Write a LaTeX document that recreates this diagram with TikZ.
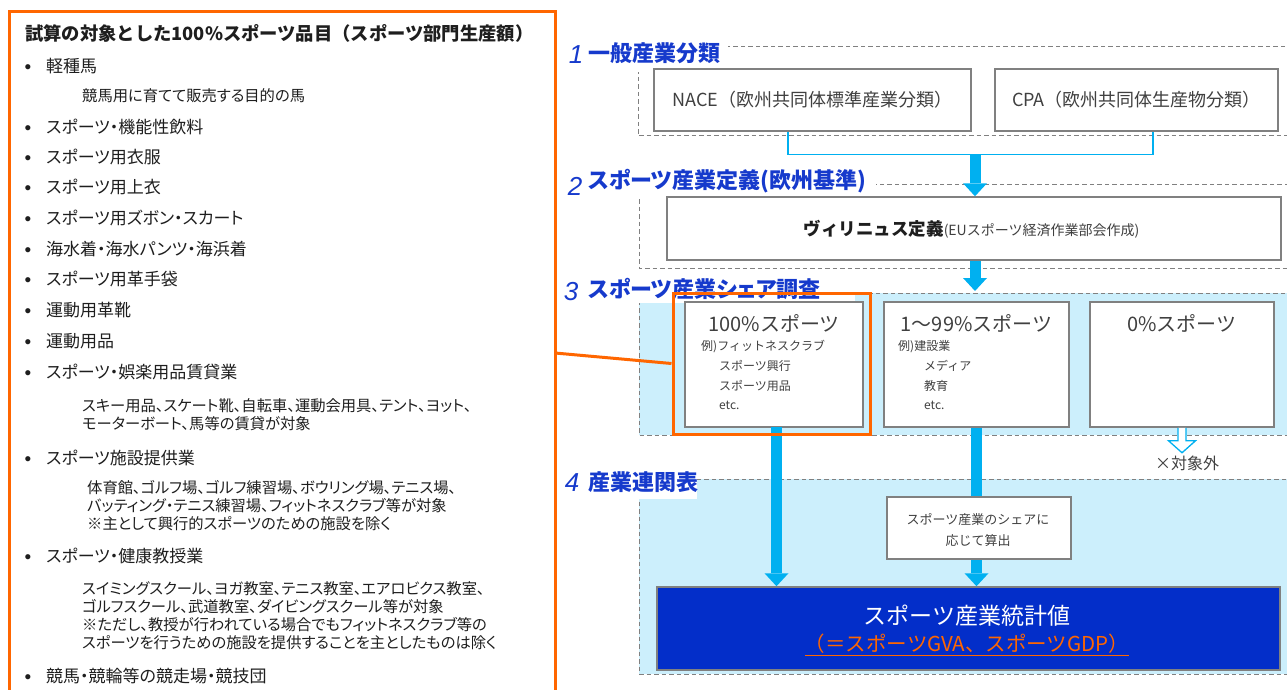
\documentclass[tikz,border=0pt]{standalone}
\usepackage{fontspec}
\usetikzlibrary{arrows.meta}
\setmainfont{Noto Sans CJK JP}
\newfontfamily\jp[RawFeature=+palt]{Noto Sans CJK JP}
\newfontfamily\jf{Noto Sans CJK JP}
\newfontfamily\numfont{Liberation Sans}
\newcommand\setfs[1]{\fontsize{#1}{#1}\selectfont}
\definecolor{orng}{RGB}{255,102,0}
\definecolor{lblue}{RGB}{204,239,252}
\definecolor{ablue}{RGB}{0,176,240}
\definecolor{dblue}{RGB}{3,46,201}
\definecolor{hblue}{RGB}{22,58,204}
\definecolor{bgray}{RGB}{128,128,128}
\definecolor{tgray}{RGB}{64,64,64}
\definecolor{tdark}{RGB}{30,30,30}
\tikzset{
 sect/.style={draw=bgray, dash pattern=on 4.5pt off 3pt, line width=1pt},
 gbox/.style={draw=bgray, line width=1.5pt, fill=white, inner sep=0pt},
 item/.style={anchor=west, inner sep=0pt, text=tdark, font=\jp\setfs{17}},
 sub/.style={anchor=west, inner sep=0pt, text=tdark, font=\jp\setfs{15.3}},
 bul/.style={inner sep=0pt, text=tdark, font=\numfont\setfs{19}, yshift=-3.5pt},
 hnum/.style={inner sep=0pt, text=hblue, font=\numfont\itshape\setfs{26}},
 htext/.style={anchor=west, inner sep=0pt, text=hblue, font=\jp\bfseries\setfs{22}},
 btitle/.style={inner sep=0pt, text=tdark!85, font=\jf\setfs{20}},
 bsub/.style={anchor=west, inner sep=0pt, text=tgray, font=\jf\setfs{12}},
 gtext/.style={inner sep=0pt, text=tgray, font=\jf\setfs{18}},
 bigarrow/.style={draw=ablue, line width=11pt, -{Triangle[width=24pt,length=13pt,line width=0pt]}},
 bracket/.style={draw=ablue, line width=1.2pt},
 hollow/.style={draw=ablue, line width=1.3pt, fill=white, line join=miter},
 oline/.style={draw=orng, line width=3pt},
}
\begin{document}
\begin{tikzpicture}[x=1pt,y=-1pt]
\useasboundingbox (0,0) rectangle (1287,690);
% ---------- section frames ----------
\draw[sect] (638,47) rectangle (1300,136);
\draw[sect] (639,184) rectangle (1300,268);
\draw[sect, fill=lblue] (639,293) rectangle (1300,435);
\draw[sect, fill=lblue] (639,479) rectangle (1300,674);
% label backgrounds
\fill[white] (558,34) rectangle (728,72);
\fill[white] (558,168) rectangle (876,197);
\fill[white] (558,272) rectangle (855,303);
\fill[white] (558,464) rectangle (697,499);
% headings
\node[hnum] (n1) at (576,55) {1};
\node[htext] (h1) at (588,53) {一般産業分類};
\node[hnum] (n2) at (575,186) {2};
\node[htext] (h2) at (588,181) {スポーツ産業定義(欧州基準)};
\node[hnum] (n3) at (571,292) {3};
\node[htext] (h3) at (588,289) {スポーツ産業シェア調査};
\node[hnum] (n4) at (572,483) {4};
\node[htext] (h4) at (588,482) {産業連関表};
% ---------- boxes ----------
\node[gbox, minimum width=317pt, minimum height=62pt] (nace) at (812.5,100) {};
\node[gtext] (nacet) at (812.5,100) {NACE（欧州共同体標準産業分類）};
\node[gbox, minimum width=283pt, minimum height=62pt] (cpa) at (1136.5,100) {};
\node[gtext] (cpat) at (1136.5,100) {CPA（欧州共同体生産物分類）};
\node[gbox, minimum width=614pt, minimum height=63pt] (vil) at (974,228.5) {};
\node[inner sep=0pt, text=tgray] (vilt) at (971.5,229) {{\jf\bfseries\setfs{17.5}\color{tdark}ヴィリニュス定義}{\jf\setfs{14}(EUスポーツ経済作業部会作成)}};
\node[gbox, minimum width=178pt, minimum height=125pt] (p100) at (774,364.5) {};
\node[gbox, minimum width=185pt, minimum height=125pt] (p199) at (976.5,364.5) {};
\node[gbox, minimum width=184pt, minimum height=125pt] (p0) at (1182,364.5) {};
\node[btitle] (p100t) at (774,323) {100\%スポーツ};
\node[bsub] (p100a) at (701,347) {例)フィットネスクラブ};
\node[bsub] (p100b) at (719,366) {スポーツ興行};
\node[bsub] (p100c) at (719,386) {スポーツ用品};
\node[bsub] (p100d) at (719,405) {etc.};
\node[btitle] (p199t) at (976.5,323) {1～99\%スポーツ};
\node[bsub] (p199a) at (898,347) {例)建設業};
\node[bsub] (p199b) at (924,366) {メディア};
\node[bsub] (p199c) at (924,386) {教育};
\node[bsub] (p199d) at (924,405) {etc.};
\node[btitle] (p0t) at (1182,323) {0\%スポーツ};
\node[draw=bgray, line width=1.5pt, fill=dblue, minimum width=623pt, minimum height=83pt, inner sep=0pt] (total) at (968.5,628.5) {};
\node[inner sep=0pt, text=white, font=\jf\setfs{23}] (tot1) at (967,616) {スポーツ産業統計値};
\node[inner sep=0pt, text=orng, font=\jf\setfs{20.5}] (tot2) at (967,645) {\underline{（＝スポーツGVA、スポーツGDP）}};
% ---------- connectors ----------
\draw[bracket] ([xshift=-24.5pt]nace.south) -- ++(0,23) coordinate (bl) -| ([xshift=16.5pt]cpa.south);
\coordinate (bj) at (975,154);
\draw[bigarrow] (bj) -- (bj |- vil.north);
\coordinate (t3) at (975,291);
\draw[bigarrow] (vil.south -| bj) -- (t3);
\coordinate (a1) at (776.5,427);
\draw[bigarrow] (a1) -- (a1 |- total.north);
\draw[bigarrow] (p199.south) -- (p199.south |- total.north);
\node[gbox, minimum width=184pt, minimum height=62pt] (calc) at (979,528) {};
\node[inner sep=0pt, text=tgray, font=\jf\setfs{13}] (calc1) at (978,519) {スポーツ産業のシェアに};
\node[inner sep=0pt, text=tgray, font=\jf\setfs{13}] (calc2) at (978,541) {応じて算出};
\draw[hollow] ([xshift=-4pt]p0.south) -- ++(0,13) -- ++(-9.5,0) -- ++(13.5,12) -- ++(13.5,-12) -- ++(-9.5,0) -- ++(0,-13);
\node[inner sep=0pt, text=tgray, font=\jf\setfs{16}] (excl) at (1187,463) {×対象外};
% ---------- orange ----------
\node[draw=orng, line width=3pt, minimum width=197pt, minimum height=141pt, inner sep=0pt] (obox) at (771.5,363.5) {};
\draw[oline] (9.5,11.5) rectangle (555,700);
\coordinate (lp) at (555,353);
\draw[oline] (lp) -- (obox.west);
% ---------- left list ----------
\node[anchor=west, inner sep=0pt, text=tdark, font=\jf\bfseries\setfs{18.3}] (title) at (25,33) {試算の対象とした100\%スポーツ品目（スポーツ部門生産額）};
\node[bul] (b1) at (28,66) {•};
\node[item] (i1) at (46,66) {軽種馬};
\node[sub] (s1) at (82,96) {競馬用に育てて販売する目的の馬};
\node[bul] (b2) at (28,127) {•};
\node[item] (i2) at (46,127) {スポーツ・機能性飲料};
\node[bul] (b3) at (28,157) {•};
\node[item] (i3) at (46,157) {スポーツ用衣服};
\node[bul] (b4) at (28,187) {•};
\node[item] (i4) at (46,187) {スポーツ用上衣};
\node[bul] (b5) at (28,218) {•};
\node[item] (i5) at (46,218) {スポーツ用ズボン・スカート};
\node[bul] (b6) at (28,249) {•};
\node[item] (i6) at (46,249) {海水着・海水パンツ・海浜着};
\node[bul] (b7) at (28,279) {•};
\node[item] (i7) at (46,279) {スポーツ用革手袋};
\node[bul] (b8) at (28,310) {•};
\node[item] (i8) at (46,310) {運動用革靴};
\node[bul] (b9) at (28,341) {•};
\node[item] (i9) at (46,341) {運動用品};
\node[bul] (b10) at (28,372) {•};
\node[item] (i10) at (46,372) {スポーツ・娯楽用品賃貸業};
\node[sub] (s2) at (82,406) {スキー用品、スケート靴、自転車、運動会用具、テント、ヨット、};
\node[sub] (s3) at (82,424) {モーターボート、馬等の賃貸が対象};
\node[bul] (b11) at (28,458) {•};
\node[item] (i11) at (46,458) {スポーツ施設提供業};
\node[sub] (s4) at (87,488) {体育館、ゴルフ場、ゴルフ練習場、ボウリング場、テニス場、};
\node[sub] (s5) at (87,506) {バッティング・テニス練習場、フィットネスクラブ等が対象};
\node[sub] (s6) at (87,524) {※主として興行的スポーツのための施設を除く};
\node[bul] (b12) at (28,556) {•};
\node[item] (i12) at (46,556) {スポーツ・健康教授業};
\node[sub] (s7) at (82,589) {スイミングスクール、ヨガ教室、テニス教室、エアロビクス教室、};
\node[sub] (s8) at (82,607) {ゴルフスクール、武道教室、ダイビングスクール等が対象};
\node[sub] (s9) at (82,625) {※ただし、教授が行われている場合でもフィットネスクラブ等の};
\node[sub] (s10) at (82,643) {スポーツを行うための施設を提供することを主としたものは除く};
\node[bul] (b13) at (28,676) {•};
\node[item] (i13) at (46,676) {競馬・競輪等の競走場・競技団};
\end{tikzpicture}
\end{document}
